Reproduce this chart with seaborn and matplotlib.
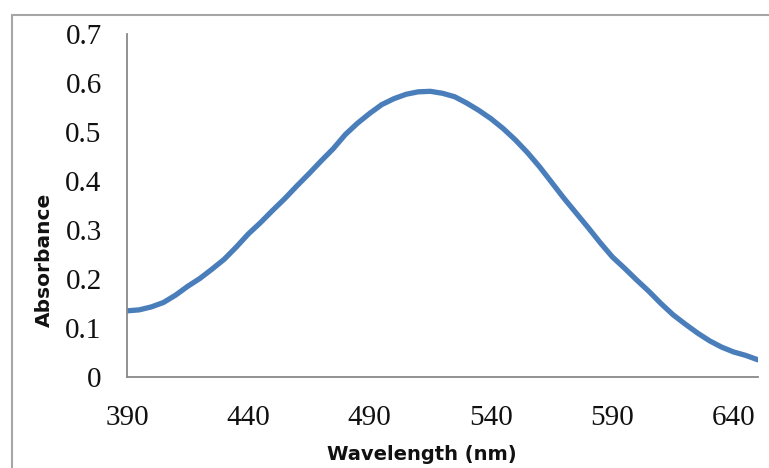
import matplotlib
matplotlib.use("Agg")
import matplotlib.pyplot as plt
import matplotlib.patches as mpatches
from matplotlib import font_manager as fm
import seaborn as sns
import pandas as pd

wavelength = [390, 395, 400, 405, 410, 415, 420, 425, 430, 435, 440, 445, 450, 455,
              460, 465, 470, 475, 480, 485, 490, 495, 500, 505, 510, 515, 520, 525,
              530, 535, 540, 545, 550, 555, 560, 565, 570, 575, 580, 585, 590, 595,
              600, 605, 610, 615, 620, 625, 630, 635, 640, 645, 650]
absorbance = [0.135, 0.137, 0.143, 0.152, 0.167, 0.185, 0.201, 0.220, 0.240, 0.265,
              0.292, 0.315, 0.340, 0.364, 0.390, 0.415, 0.441, 0.466, 0.495, 0.518,
              0.538, 0.556, 0.568, 0.577, 0.582, 0.583, 0.579, 0.572, 0.559, 0.544,
              0.527, 0.507, 0.484, 0.458, 0.429, 0.397, 0.365, 0.335, 0.305, 0.274,
              0.245, 0.222, 0.198, 0.175, 0.150, 0.127, 0.108, 0.090, 0.074, 0.061,
              0.051, 0.044, 0.035]
x_ticks = [390, 440, 490, 540, 590, 640]
y_ticks = [0, 0.1, 0.2, 0.3, 0.4, 0.5, 0.6, 0.7]
y_tick_labels = ["0", "0.1", "0.2", "0.3", "0.4", "0.5", "0.6", "0.7"]

df = pd.DataFrame({"Wavelength (nm)": wavelength, "Absorbance": absorbance})

sns.set_style("white")
plt.rcParams["font.family"] = ["Liberation Serif", "DejaVu Serif"]

# resolve the Times-like serif face explicitly for the tick labels
try:
    serif_path = fm.findfont(fm.FontProperties(family="Liberation Serif"),
                             fallback_to_default=False)
    tick_fp = fm.FontProperties(fname=serif_path, size=21)
except Exception:
    tick_fp = fm.FontProperties(family="serif", size=21)

W, H = 769, 468
fig = plt.figure(figsize=(W / 100, H / 100), dpi=100)
ax = fig.add_axes([127 / W, 1 - 377 / H, (758 - 127) / W, (377 - 34) / H])

sns.lineplot(data=df, x="Wavelength (nm)", y="Absorbance", ax=ax,
             color="#4a7ebb", linewidth=3.8)

ax.set_xlim(390, 650)
ax.set_ylim(0, 0.7)
ax.set_xticks(x_ticks)
ax.set_xticklabels([str(v) for v in x_ticks])
ax.set_yticks(y_ticks)
ax.set_yticklabels(y_tick_labels)
for lbl in ax.get_xticklabels() + ax.get_yticklabels():
    lbl.set_fontproperties(tick_fp)

spine_col = "#898989"
for s in ["top", "right"]:
    ax.spines[s].set_visible(False)
for s in ["left", "bottom"]:
    ax.spines[s].set_color(spine_col)
    ax.spines[s].set_linewidth(1.3)

ax.tick_params(axis="both", which="major", direction="out", length=6.2,
               width=1.2, color=spine_col, labelcolor="#111111")
ax.tick_params(axis="x", pad=14)
ax.tick_params(axis="y", pad=12)
ax.grid(False)

xlab_font = dict(family=["DejaVu Sans"], weight="bold", size=14, color="#111111")
ylab_font = dict(family=["DejaVu Sans"], weight="bold", size=14.5, color="#111111")
ax.set_xlabel("Wavelength (nm)", fontdict=xlab_font)
ax.set_ylabel("Absorbance", fontdict=ylab_font)
ax.xaxis.set_label_coords((421.5 - 127) / 631, (377 - 444.5) / 343)
ax.yaxis.label.set_va("center")
ax.yaxis.set_label_coords((44 - 127) / 631, (377 - 259.5) / 343)

# outer chart border (as in the spreadsheet export)
border = mpatches.Rectangle((12 / W, -0.2), 1.3, 0.2 + (1 - 15 / H),
                            transform=fig.transFigure, fill=False,
                            edgecolor="#a6a6a6", linewidth=1.5, clip_on=False)
fig.patches.append(border)

fig.savefig("out.png", dpi=100)
